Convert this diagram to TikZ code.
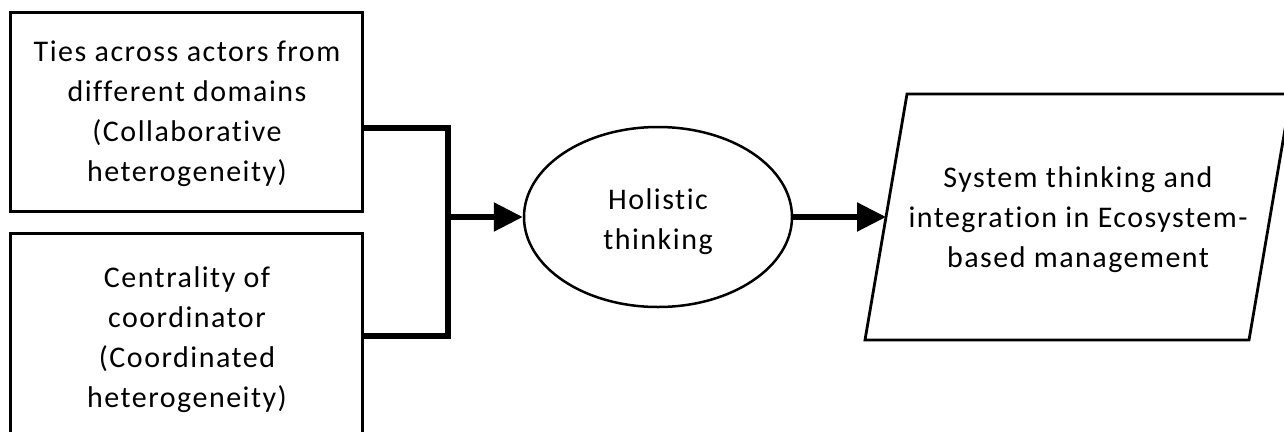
\documentclass[tikz,border=0pt]{standalone}
\usepackage{fontspec}
\setmainfont{Carlito}[LetterSpace=5,Ligatures={NoCommon}]
\usetikzlibrary{arrows.meta,shapes.geometric}
\begin{document}
\begin{tikzpicture}[x=1pt,y=-1pt,
  every node/.style={font=\fontsize{30}{40}\selectfont, align=center, inner sep=0pt},
  box/.style={draw, line width=3pt, rectangle, minimum width=352pt},
  conn/.style={line width=5.5pt, line join=miter},
  arr/.style={conn, -{Triangle[length=29pt,width=28pt]}}]
\useasboundingbox (0,0) rectangle (1284,431);
\clip (0,0) rectangle (1284,431);
\fill[white] (0,0) rectangle (1284,431);
\node[box, minimum height=199pt] (b1) at (186,111.5) {};
\node (b1t) at (187,114) {Ties across actors from\\different domains\\(Collaborative\\heterogeneity)};
\node[box, minimum height=206pt] (b2) at (186,336) {};
\node (b2t) at (187,340) {Centrality of\\coordinator\\(Coordinated\\heterogeneity)};
\node[draw, ellipse, line width=2.5pt, minimum width=268pt, minimum height=180pt] (ell) at (658,217) {};
\node (ellt) at (658,222) {Holistic\\thinking};
\draw[line width=2.8pt, line join=miter] (907,94) -- (1291,94) -- (1249,340) -- (865,340) -- cycle;
\node (out) at (1078,220) {System thinking and\\integration in Ecosystem-\\based management};
\coordinate (pin) at (886,217);
\coordinate (j) at (448,217);
\draw[conn] ([yshift=-16.5pt]b1.east) -| (j);
\draw[conn] (b2.east) -| (j);
\draw[arr] ([xshift=-2.75pt]j) -- (ell.west);
\draw[arr] (ell.east) -- (pin);
\end{tikzpicture}
\end{document}
